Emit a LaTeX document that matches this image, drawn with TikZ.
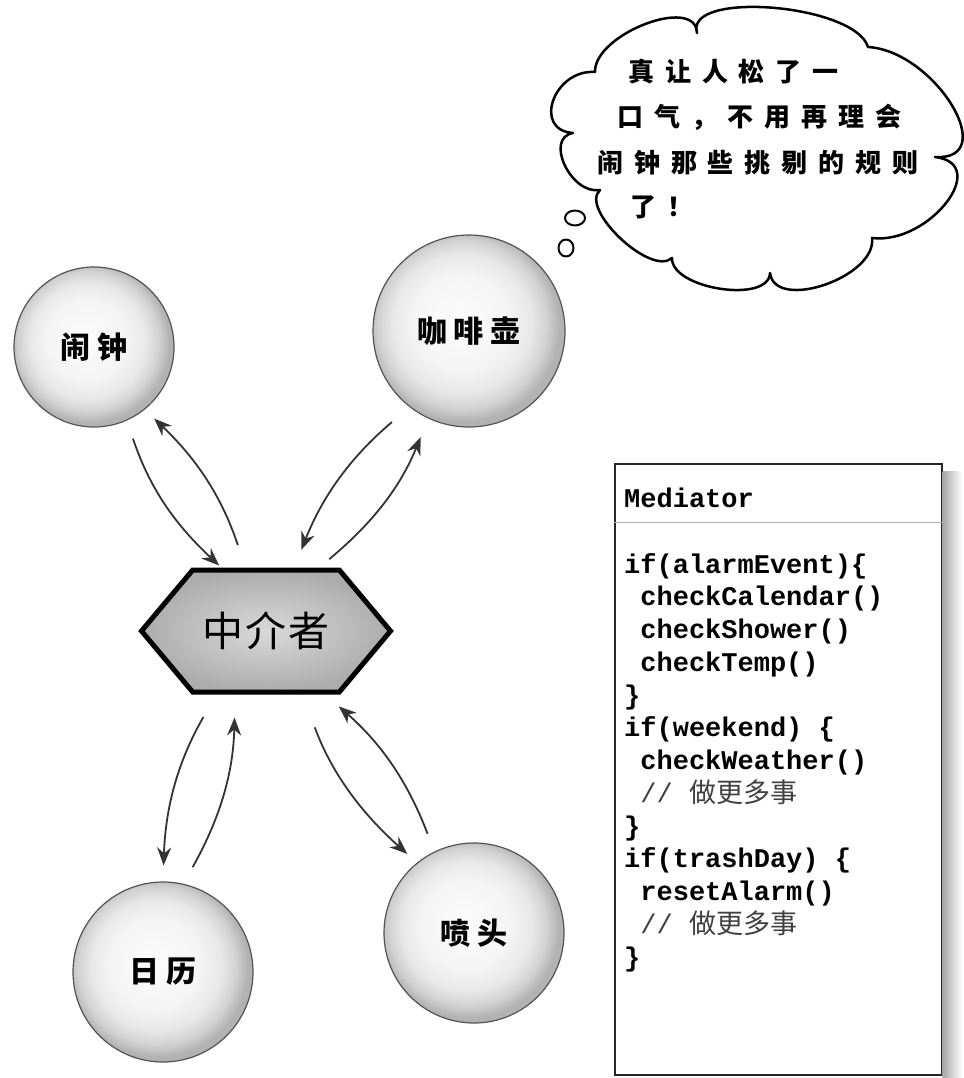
\documentclass[tikz,border=0pt]{standalone}
\usepackage{fontspec}
\setmonofont{Liberation Mono}
\newfontfamily\cjk{Noto Sans CJK SC}
\usetikzlibrary{arrows.meta,shapes.symbols}
\pgfdeclareradialshading{ball}{\pgfpoint{-3bp}{3bp}}{color(0bp)=(gray!3); color(12bp)=(gray!8); color(18bp)=(gray!18); color(22bp)=(gray!36); color(25bp)=(gray!60); color(50bp)=(gray!60)}
\newcommand\ind{\phantom{x}}
\newcommand\cmt{\mdseries\color{black!75}// \cjk 做更多事}

\begin{document}
\begin{tikzpicture}[x=1pt,y=-1pt,>=Stealth,
  ball/.style={circle,draw=gray!65!black,line width=1.2pt,shading=ball,font={\cjk\bfseries\fontsize{30}{32}\selectfont\addfontfeature{LetterSpace=22}}},
  hub/.style={signal,signal to=west and east,signal pointer angle=100,draw,line width=5pt,inner color=gray!30,outer color=gray!65,minimum width=249pt,minimum height=122pt,font={\cjk\fontsize{41}{44}\selectfont\addfontfeature{LetterSpace=6}}},
  arr/.style={-{Stealth[length=18pt,width=14pt,inset=6pt]},draw=gray!40!black,line width=1.8pt},
  bubble/.style={draw,line width=2.5pt,line join=round},
  think/.style={anchor=west,inner sep=0pt,font={\cjk\bfseries\fontsize{26}{28}\selectfont\addfontfeature{LetterSpace=42}}},
  mbox/.style={draw=gray!30!black,line width=1.5pt,fill=white,inner sep=0pt},
  code/.style={anchor=base west,inner sep=0pt,font=\ttfamily\bfseries\fontsize{27}{30}\selectfont}]
\useasboundingbox (0,0) rectangle (963,1078);

\draw[bubble] (595,72) .. controls (594,34) and (696,-5) .. (697,33)
  .. controls (684,-10) and (855,4) .. (868,47)
  .. controls (935,51) and (1002,161) .. (935,157)
  .. controls (992,164) and (929,245) .. (872,238)
  .. controls (877,277) and (775,312) .. (770,273)
  .. controls (769,304) and (671,289) .. (672,258)
  .. controls (651,277) and (579,209) .. (600,190)
  .. controls (571,195) and (544,138) .. (573,133)
  .. controls (532,130) and (554,69) .. (595,72) -- cycle;
\draw[bubble,line width=2pt] (575,218) ellipse [x radius=10,y radius=7.5];
\draw[bubble,line width=2pt] (566,248) ellipse [x radius=7.5,y radius=8.5];
\node[think] (say1) at (628,72) {真让人松了一};
\node[think] (say2) at (617,117) {口气，不用再理会};
\node[think] (say3) at (597,163) {闹钟那些挑剔的规则};
\node[think] (say4) at (630,207) {了！};

\node[ball,minimum size=160pt] (alarm) at (94,347) {闹钟};
\node[ball,minimum size=192pt] (coffee) at (469,331) {咖啡壶};
\node[ball,minimum size=180pt] (cal) at (163,972) {日历};
\node[ball,minimum size=180pt] (shower) at (474,933) {喷头};
\node[hub] (med) at (266,631) {中介者};

\draw[arr,shorten <=19pt,shorten >=4pt] (alarm.-66) to[bend right=14] (med.125);
\draw[arr,shorten <=24pt,shorten >=13pt] (med.108) to[bend right=14] (alarm.-51.5);
\draw[arr,shorten <=23pt,shorten >=19pt] (coffee.-128) to[bend right=14] (med.66.6);
\draw[arr,shorten <=13pt,shorten >=20pt] (med.50.6) to[bend right=14] (coffee.-115);
\draw[arr,shorten <=26pt,shorten >=16pt] (med.-128) to[bend right=14] (cal.90);
\draw[arr,shorten <=19pt,shorten >=23pt] (cal.77) to[bend right=14] (med.-116);
\draw[arr,shorten <=35pt,shorten >=13pt] (med.-60) to[bend right=14] (shower.129.5);
\draw[arr,shorten <=19pt,shorten >=18pt] (shower.116.6) to[bend right=14] (med.-47);

\node[mbox,anchor=north west,minimum width=327pt,minimum height=611pt] (mbox) at (614,463) {};
\shade[left color=gray!70,right color=white] ([yshift=-8pt]mbox.north east) rectangle (962,1078);
\draw[gray!60,line width=1pt] (mbox.west |- 0,522) -- (mbox.east |- 0,522);
\node[code] (mname) at (624,507) {Mediator};
\foreach \t [count=\i from 0] in {if(alarmEvent)\{, \ind checkCalendar(), \ind checkShower(), \ind checkTemp(), \}, if(weekend) \{, \ind checkWeather(), \ind\cmt, \}, if(trashDay) \{, \ind resetAlarm(), \ind\cmt, \}}
  \node[code] (line\i) at (624,573+32.75*\i) {\t};
\end{tikzpicture}
\end{document}
